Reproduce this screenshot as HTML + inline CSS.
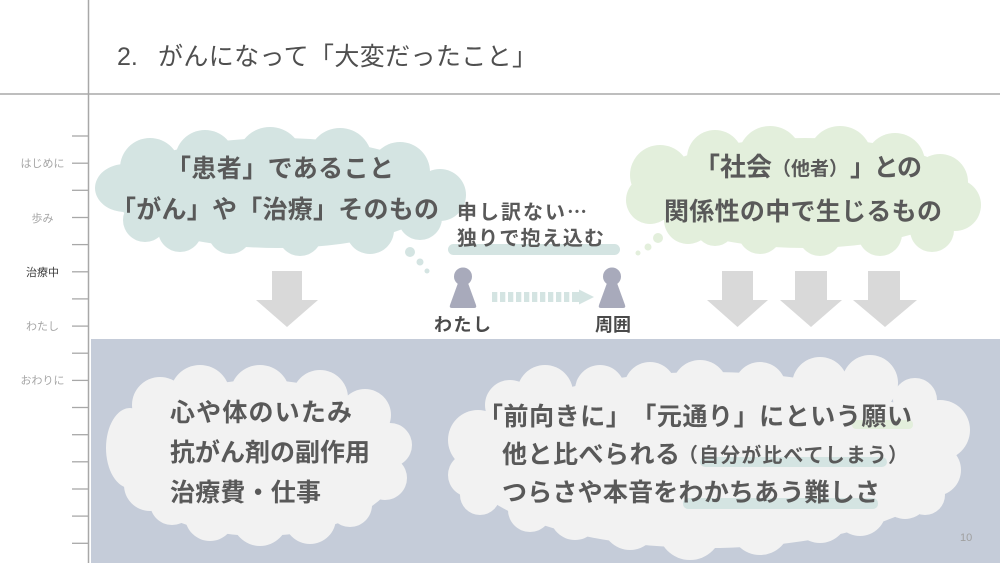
<!DOCTYPE html>
<html><head><meta charset="utf-8">
<style>
html,body{margin:0;padding:0;background:#fff;}
svg{display:block;}
text{font-family:"Liberation Sans","Noto Sans CJK JP",sans-serif;text-spacing-trim:space-all;}
</style></head>
<body>
<svg width="1000" height="563" viewBox="0 0 1000 563" xmlns="http://www.w3.org/2000/svg">
<rect width="1000" height="563" fill="#ffffff"/>
<!-- bottom panel -->
<rect x="91" y="339" width="909" height="224" fill="#c5ccd9"/>
<!-- frame lines -->
<line x1="0" y1="94" x2="1000" y2="94" stroke="#a8a8a8" stroke-width="1.5"/>
<line x1="88.5" y1="0" x2="88.5" y2="563" stroke="#a8a8a8" stroke-width="1.5"/>
<!-- ticks -->
<g stroke="#a8a8a8" stroke-width="1.3">
<line x1="72" y1="136" x2="88" y2="136"/>
<line x1="72" y1="163.2" x2="88" y2="163.2"/>
<line x1="72" y1="190.3" x2="88" y2="190.3"/>
<line x1="72" y1="217.5" x2="88" y2="217.5"/>
<line x1="72" y1="244.6" x2="88" y2="244.6"/>
<line x1="72" y1="271.8" x2="88" y2="271.8"/>
<line x1="72" y1="298.9" x2="88" y2="298.9"/>
<line x1="72" y1="326.1" x2="88" y2="326.1"/>
<line x1="72" y1="353.2" x2="88" y2="353.2"/>
<line x1="72" y1="380.4" x2="88" y2="380.4"/>
<line x1="72" y1="407.5" x2="88" y2="407.5"/>
<line x1="72" y1="434.7" x2="88" y2="434.7"/>
<line x1="72" y1="461.8" x2="88" y2="461.8"/>
<line x1="72" y1="489" x2="88" y2="489"/>
<line x1="72" y1="516.1" x2="88" y2="516.1"/>
<line x1="72" y1="543.3" x2="88" y2="543.3"/>
</g>
<!-- sidebar labels -->
<g font-size="11" text-anchor="middle" fill="#a6a6a6">
<text x="42.5" y="167">はじめに</text>
<text x="42.5" y="222">歩み</text>
<text x="42.5" y="276" fill="#3a3a3a">治療中</text>
<text x="42.5" y="330">わたし</text>
<text x="42.5" y="384">おわりに</text>
</g>
<!-- title -->
<text x="117" y="65" font-size="25" fill="#4f4f4f">2.</text>
<text x="158" y="65" font-size="25" fill="#4f4f4f" textLength="379" lengthAdjust="spacing">がんになって「大変だったこと」</text>

<!-- top-left cloud -->
<g fill="#d4e4e2">
<ellipse cx="278" cy="193" rx="165" ry="55"/>
<circle cx="150" cy="168" r="30"/>
<ellipse cx="125" cy="188" rx="30" ry="24"/>
<circle cx="145" cy="220" r="22"/>
<circle cx="205" cy="160" r="30"/>
<circle cx="270" cy="160" r="33"/>
<circle cx="340" cy="160" r="32"/>
<circle cx="400" cy="172" r="30"/>
<circle cx="440" cy="195" r="26"/>
<circle cx="420" cy="218" r="22"/>
<circle cx="370" cy="230" r="24"/>
<circle cx="300" cy="234" r="22"/>
<circle cx="230" cy="232" r="22"/>
<circle cx="180" cy="230" r="22"/>
<circle cx="410" cy="252" r="5"/>
<circle cx="420" cy="262" r="3.5"/>
<circle cx="427" cy="271" r="2.5"/>
</g>
<g font-size="25" font-weight="bold" fill="#595959">
<text x="166" y="177" textLength="228" lengthAdjust="spacing">「患者」であること</text>
<text x="111" y="218" textLength="328" lengthAdjust="spacing">「がん」や「治療」そのもの</text>
</g>

<!-- right cloud -->
<g fill="#e3efdc">
<ellipse cx="805" cy="193" rx="162" ry="55"/>
<circle cx="660" cy="175" r="30"/>
<circle cx="650" cy="200" r="24"/>
<circle cx="688" cy="220" r="24"/>
<circle cx="715" cy="158" r="28"/>
<circle cx="770" cy="158" r="32"/>
<circle cx="840" cy="158" r="32"/>
<circle cx="895" cy="163" r="30"/>
<circle cx="940" cy="182" r="28"/>
<circle cx="955" cy="205" r="26"/>
<circle cx="932" cy="230" r="22"/>
<circle cx="880" cy="234" r="22"/>
<circle cx="820" cy="234" r="22"/>
<circle cx="760" cy="232" r="22"/>
<circle cx="715" cy="226" r="20"/>
<circle cx="658" cy="238" r="5"/>
<circle cx="648" cy="247" r="3.5"/>
<circle cx="638" cy="253" r="2.5"/>
</g>
<g font-weight="bold" fill="#595959">
<text x="694" y="176" font-size="26">「社会</text>
<text x="772" y="175" font-size="19" textLength="76" lengthAdjust="spacing">（他者）</text>
<text x="850" y="176" font-size="25" textLength="72" lengthAdjust="spacing">」との</text>
<text x="664" y="220" font-size="25" textLength="278" lengthAdjust="spacing">関係性の中で生じるもの</text>
</g>

<!-- middle note -->
<rect x="448" y="244" width="172" height="11" rx="5.5" fill="#d4e4e2"/>
<g font-size="20" font-weight="bold" fill="#595959">
<text x="457" y="219" textLength="130" lengthAdjust="spacing">申し訳ない<tspan font-family="'Noto Sans CJK JP',sans-serif">…</tspan></text>
<text x="457" y="245" textLength="147" lengthAdjust="spacing">独りで抱え込む</text>
</g>

<!-- persons -->
<g fill="#a8aabb">
<circle cx="463" cy="276.5" r="9"/>
<path d="M458,283 L468,283 L476,305 Q477,308 474,308 L452,308 Q449,308 450,305 Z"/>
<circle cx="612" cy="276.5" r="9"/>
<path d="M607,283 L617,283 L625,305 Q626,308 623,308 L601,308 Q598,308 599,305 Z"/>
</g>
<!-- dashed arrow -->
<g fill="#d4e4e2">
<rect x="492" y="292" width="5.3" height="10"/>
<rect x="500" y="292" width="5.3" height="10"/>
<rect x="508" y="292" width="5.3" height="10"/>
<rect x="516" y="292" width="5.3" height="10"/>
<rect x="524" y="292" width="5.3" height="10"/>
<rect x="532" y="292" width="5.3" height="10"/>
<rect x="540" y="292" width="5.3" height="10"/>
<rect x="548" y="292" width="5.3" height="10"/>
<rect x="556" y="292" width="5.3" height="10"/>
<rect x="564" y="292" width="5.3" height="10"/>
<rect x="572" y="292" width="8" height="10"/>
<polygon points="579,289.5 594,297 579,304.5"/>
</g>
<g font-size="18" font-weight="bold" fill="#4a4a4a">
<text x="434" y="331" textLength="57" lengthAdjust="spacing">わたし</text>
<text x="595" y="331" textLength="36" lengthAdjust="spacing">周囲</text>
</g>

<!-- gray arrows -->
<g fill="#d9d9d9">
<rect x="272" y="271" width="30" height="30"/>
<polygon points="256,300 318,300 287,327"/>
<rect x="722" y="271" width="31" height="30"/>
<polygon points="707,300 768,300 737.5,327"/>
<rect x="795" y="271" width="32" height="30"/>
<polygon points="780,300 842,300 811,327"/>
<rect x="868" y="271" width="32" height="30"/>
<polygon points="853,300 917,300 885,327"/>
</g>

<!-- bottom-left cloud -->
<g fill="#f2f2f2">
<ellipse cx="260" cy="458" rx="142" ry="78"/>
<circle cx="160" cy="405" r="28"/>
<ellipse cx="130" cy="448" rx="24" ry="40"/>
<circle cx="150" cy="485" r="26"/>
<circle cx="172" cy="503" r="22"/>
<circle cx="200" cy="395" r="30"/>
<circle cx="260" cy="395" r="30"/>
<circle cx="320" cy="398" r="28"/>
<circle cx="365" cy="415" r="26"/>
<circle cx="390" cy="445" r="22"/>
<circle cx="385" cy="478" r="22"/>
<circle cx="350" cy="505" r="22"/>
<circle cx="310" cy="518" r="26"/>
<circle cx="260" cy="518" r="28"/>
<circle cx="210" cy="516" r="25"/>
</g>
<g font-size="25" font-weight="bold" fill="#595959">
<text x="170" y="421" textLength="182" lengthAdjust="spacing">心や体のいたみ</text>
<text x="170" y="461" textLength="200" lengthAdjust="spacing">抗がん剤の副作用</text>
<text x="170" y="501" textLength="151" lengthAdjust="spacing">治療費・仕事</text>
</g>

<!-- bottom-right cloud -->
<g fill="#f2f2f2">
<ellipse cx="708" cy="460" rx="245" ry="88"/>
<circle cx="478" cy="440" r="30"/>
<circle cx="510" cy="405" r="25"/>
<circle cx="470" cy="475" r="22"/>
<circle cx="480" cy="495" r="20"/>
<circle cx="530" cy="510" r="22"/>
<circle cx="575" cy="515" r="25"/>
<circle cx="630" cy="522" r="28"/>
<circle cx="690" cy="528" r="32"/>
<circle cx="760" cy="525" r="30"/>
<circle cx="820" cy="515" r="28"/>
<circle cx="860" cy="510" r="26"/>
<circle cx="905" cy="495" r="24"/>
<circle cx="940" cy="430" r="30"/>
<circle cx="935" cy="470" r="26"/>
<circle cx="925" cy="495" r="20"/>
<circle cx="545" cy="393" r="28"/>
<circle cx="600" cy="390" r="25"/>
<circle cx="650" cy="388" r="26"/>
<circle cx="700" cy="388" r="28"/>
<circle cx="760" cy="388" r="26"/>
<circle cx="820" cy="385" r="28"/>
<circle cx="870" cy="383" r="28"/>
<circle cx="915" cy="400" r="22"/>
</g>
<!-- highlights -->
<rect x="852" y="420" width="61" height="9" rx="4" fill="#e3efdc"/>
<rect x="700" y="457" width="187" height="10" rx="5" fill="#d4e4e2"/>
<rect x="683" y="498" width="195" height="11" rx="5" fill="#d4e4e2"/>
<g font-weight="bold" fill="#595959">
<text x="478" y="425" font-size="25" textLength="434" lengthAdjust="spacing">「前向きに」「元通り」にという願い</text>
<text x="502" y="463" font-size="25" textLength="178" lengthAdjust="spacing">他と比べられる</text>
<text x="678" y="462" font-size="20" textLength="230" lengthAdjust="spacing">（自分が比べてしまう）</text>
<text x="502" y="501" font-size="25" textLength="378" lengthAdjust="spacing">つらさや本音をわかちあう難しさ</text>
</g>

<!-- page number -->
<text x="960" y="541" font-size="11" fill="#a0a0a0">10</text>
</svg>
</body></html>
